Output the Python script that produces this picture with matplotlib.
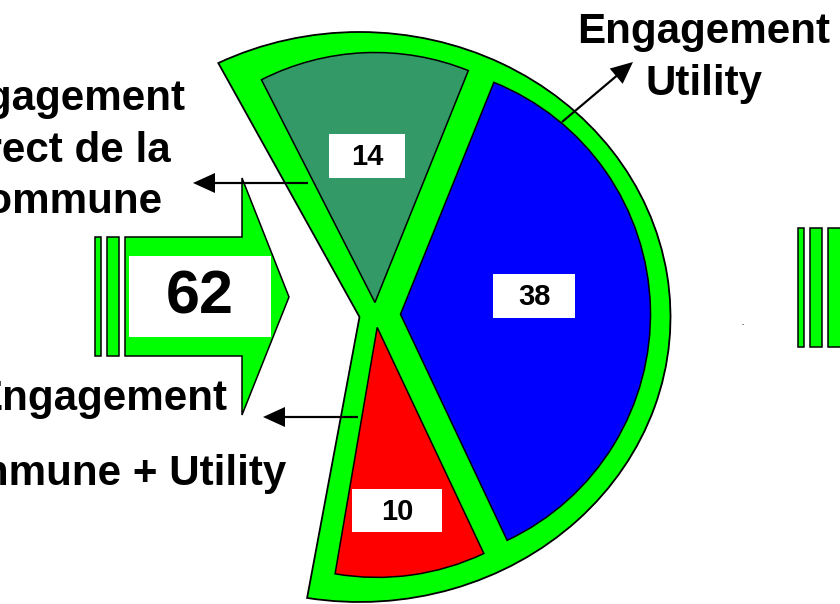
import numpy as np
import matplotlib.pyplot as plt
from matplotlib.patches import Polygon, Rectangle, Wedge
from matplotlib.transforms import Affine2D

plt.rcParams['font.family'] = ['Liberation Sans', 'DejaVu Sans']
plt.rcParams['font.weight'] = 'bold'

# slices, clockwise from the top
values = [14, 38, 10]
colors = ['#339966', '#0000ff', '#ff0000']
gap = 41          # empty "mouth" on the left of the pie
total = sum(values)

W, H = 840, 604
GREEN = '#00ff00'

fig = plt.figure(figsize=(8.4, 6.04), dpi=100)
ax = fig.add_axes([0, 0, 1, 1])


def px(x, y):
    # picture pixels (y down) -> data coords (y up)
    return x, H - y


# coloured slices
wedges, _ = ax.pie(values + [gap], colors=colors + ['white'],
                   explode=[12.5, 25, 12.5, 0], startangle=117, counterclock=False,
                   center=px(375.5, 315), radius=250,
                   wedgeprops=dict(edgecolor='black', linewidth=1.1, joinstyle='miter'))
wedges[-1].set_visible(False)
for w in wedges:
    w.set_zorder(2)

# green backing: the same sector, stretched into an ellipse
ell = Affine2D().scale(311, 285).translate(*px(359.5, 317)) + ax.transData
back = Wedge((0, 0), 1, wedges[2].theta1, wedges[0].theta2, transform=ell,
             fc=GREEN, ec='black', lw=1.3, joinstyle='miter', zorder=1)
ax.add_patch(back)

# value boxes
boxes = [(329, 134, 405, 178), (493, 274, 575, 318), (352, 489, 442, 532)]
for v, (x0, y0, x1, y1) in zip(values, boxes):
    ax.add_patch(Rectangle(px(x0, y1), x1 - x0, y1 - y0, fc='white', ec='none', zorder=3))
    ax.text(*px((x0 + x1) / 2, (y0 + y1) / 2 + 1), str(v), fontsize=21,
            ha='center', va='center', zorder=4)


# block arrows with the total
def block_arrow(dx, dy):
    body = [(125, 237), (242, 237), (242, 178), (289, 297),
            (242, 415), (242, 356), (125, 356)]
    pts = [px(x + dx, y + dy) for x, y in body]
    ax.add_patch(Polygon(pts, closed=True, fc=GREEN, ec='black', lw=1.1, zorder=2))
    for x0, x1 in [(95, 101), (107, 119)]:
        ax.add_patch(Rectangle(px(x0 + dx, 356 + dy), x1 - x0, 119,
                               fc=GREEN, ec='black', lw=1.1, zorder=2))


block_arrow(0, 0)
block_arrow(703, -9)
ax.add_patch(Rectangle(px(129, 337), 142, 81, fc='white', ec='none', zorder=3))
ax.text(*px(200, 298), str(total), fontsize=44, ha='center', va='center', zorder=4)

# captions
fs = 30.3
for s, x, y in [('Engagement', 704, 43), ('Utility', 704, 95),
                ('Engagement', 59, 110), ('direct de la', 59, 162), ('Commune', 59, 213),
                ('Engagement', 101, 410), ('Commune + Utility', 101, 485)]:
    ax.text(*px(x, y), s, fontsize=fs, ha='center', va='baseline', zorder=5)

# pointer arrows
for (x0, y0), (x1, y1) in [((308, 183), (193, 183)),
                           ((358, 417), (263, 417)),
                           ((562, 122), (633, 62))]:
    sx, sy = px(x0, y0)
    ex, ey = px(x1, y1)
    ax.arrow(sx, sy, ex - sx, ey - sy, width=2.2, head_width=20, head_length=22,
             length_includes_head=True, fc='black', ec='none', zorder=6)

ax.text(*px(743, 325), '-', fontsize=5, color='#555555', ha='center', va='center')

ax.set_xlim(0, W)
ax.set_ylim(0, H)
ax.set_aspect('equal')
ax.axis('off')
fig.savefig('out.png', dpi=100)
